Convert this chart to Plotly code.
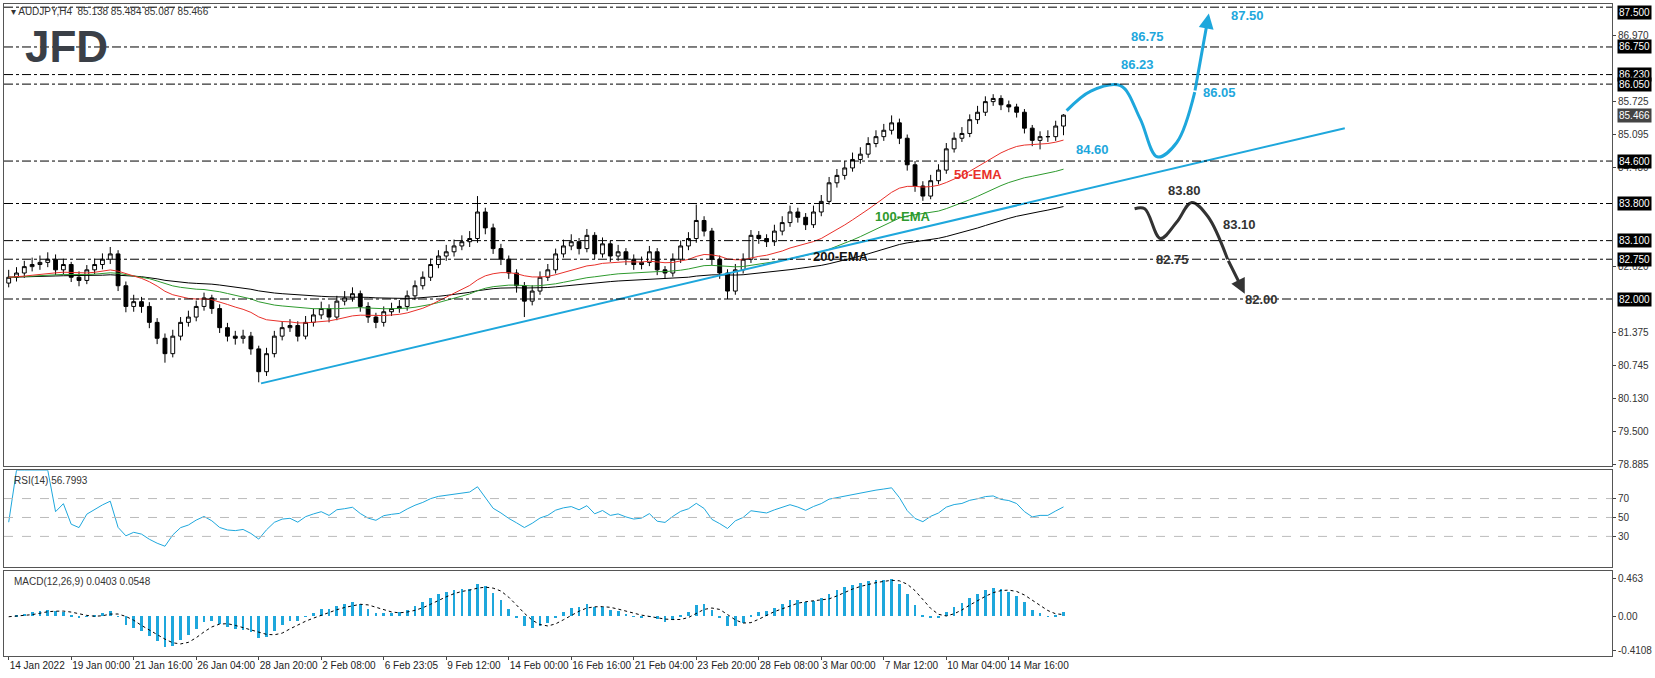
import numpy as np
import pandas as pd
import plotly.graph_objects as go
from plotly.subplots import make_subplots

closes = [82.41,82.49,82.61,82.65,82.69,82.75,82.55,82.65,82.41,82.35,82.55,82.65,82.75,82.85,82.25,81.86,81.95,81.86,81.56,81.26,
80.97,81.30,81.56,81.66,81.86,82.02,81.82,81.46,81.30,81.26,81.30,81.06,80.63,80.97,81.30,81.46,81.50,81.30,81.56,81.70,
81.82,81.66,81.96,82.02,82.10,81.86,81.66,81.56,81.76,81.82,81.86,82.06,82.25,82.41,82.65,82.81,82.89,83.00,83.08,83.14,
83.64,83.34,82.95,82.75,82.49,82.25,81.96,82.15,82.41,82.55,82.85,83.00,83.08,82.95,83.20,82.85,83.04,82.81,82.89,82.75,
82.65,82.69,82.89,82.55,82.49,82.75,83.00,83.14,83.48,83.28,82.75,82.49,82.15,82.55,82.75,83.20,83.14,83.08,83.28,83.44,
83.64,83.54,83.40,83.64,83.84,84.19,84.33,84.47,84.63,84.73,84.93,85.06,85.18,85.32,85.03,84.53,84.13,83.94,84.23,84.43,
84.83,85.03,85.12,85.38,85.52,85.72,85.78,85.66,85.62,85.52,85.22,84.99,85.06,85.06,85.26,85.466]
highs = [82.55,82.60,82.72,82.78,82.82,82.88,82.84,82.76,82.70,82.52,82.64,82.76,82.86,82.98,82.92,82.33,82.08,82.04,81.94,81.64,
81.35,81.42,81.66,81.78,81.97,82.12,82.08,81.90,81.55,81.40,81.42,81.38,81.12,81.08,81.40,81.58,81.62,81.58,81.68,81.82,
81.95,81.90,82.06,82.15,82.22,82.16,81.94,81.74,81.86,81.93,81.98,82.16,82.35,82.52,82.76,82.92,83.02,83.12,83.20,83.28,
83.94,83.72,83.42,83.04,82.82,82.56,82.32,82.26,82.52,82.66,82.95,83.12,83.22,83.15,83.32,83.26,83.16,83.10,83.02,82.96,
82.84,82.80,83.00,82.96,82.62,82.86,83.10,83.26,83.78,83.56,83.34,82.82,82.56,82.66,82.86,83.30,83.28,83.22,83.40,83.56,
83.76,83.72,83.62,83.76,83.96,84.30,84.45,84.60,84.76,84.86,85.05,85.18,85.30,85.46,85.40,85.10,84.60,84.22,84.34,84.54,
84.94,85.14,85.24,85.48,85.64,85.82,85.86,85.84,85.74,85.68,85.58,85.28,85.16,85.18,85.36,85.484]
lows = [82.22,82.33,82.40,82.52,82.55,82.60,82.45,82.46,82.32,82.24,82.28,82.47,82.56,82.66,82.15,81.75,81.76,81.74,81.45,81.15,
80.80,80.90,81.22,81.48,81.58,81.78,81.72,81.36,81.20,81.14,81.16,80.95,80.43,80.55,80.90,81.22,81.38,81.20,81.24,81.48,
81.62,81.56,81.60,81.88,81.95,81.76,81.55,81.45,81.48,81.68,81.74,81.78,81.98,82.18,82.34,82.58,82.72,82.80,82.92,82.98,
83.06,83.22,82.85,82.64,82.38,82.12,81.66,81.88,82.08,82.34,82.48,82.78,82.92,82.84,82.88,82.75,82.78,82.70,82.72,82.64,
82.55,82.56,82.62,82.45,82.38,82.42,82.68,82.92,83.06,83.18,82.64,82.38,82.00,82.08,82.48,82.68,83.04,82.98,83.00,83.20,
83.36,83.44,83.30,83.34,83.56,83.78,84.10,84.25,84.40,84.55,84.66,84.86,84.98,85.10,84.92,84.42,84.02,83.85,83.88,84.16,
84.36,84.76,84.96,85.05,85.30,85.45,85.64,85.56,85.52,85.42,85.12,84.88,84.82,84.96,84.98,85.087]
first_open = 82.30
date_labels = ["14 Jan 2022","19 Jan 00:00","21 Jan 16:00","26 Jan 04:00","28 Jan 20:00","2 Feb 08:00","6 Feb 23:05",
"9 Feb 12:00","14 Feb 00:00","16 Feb 16:00","21 Feb 04:00","23 Feb 20:00","28 Feb 08:00","3 Mar 00:00","7 Mar 12:00",
"10 Mar 04:00","14 Mar 16:00"]
levels = [87.50,86.75,86.23,86.05,84.60,83.80,83.10,82.75,82.00]
plain_ticks = [86.970,85.725,85.095,84.480,82.620,81.375,80.745,80.130,79.500,78.885]
trend_x = [32.3,171.0]; trend_y = [80.41,85.22]
bull_x = [135.4,138.5,142.3,144.8,147.0,149.5,151.8,153.6]
bull_y = [85.55,85.92,86.02,85.40,84.68,84.95,85.90,87.38]
bear_x = [144.1,145.4,147.4,149.5,151.4,153.5,156.0,158.2]
bear_y = [83.70,83.70,83.14,83.45,83.82,83.55,82.75,82.10]

opens = [first_open] + closes[:-1]
n = len(closes)
idx = list(range(n))
s = pd.Series(closes)
ema50 = s.ewm(span=25, adjust=False).mean()
ema100 = s.ewm(span=50, adjust=False).mean()
ema200 = s.ewm(span=100, adjust=False).mean()
d = s.diff()
up = d.clip(lower=0).ewm(alpha=1/12, adjust=True).mean()
dn = (-d.clip(upper=0)).ewm(alpha=1/12, adjust=True).mean()
rsi = (100 - 100/(1+up/dn)).fillna(45)
macd = s.ewm(span=6, adjust=False).mean() - s.ewm(span=13, adjust=False).mean()
sig = macd.rolling(4, min_periods=1).mean()

BLUE = "#1ea7dc"
fig = make_subplots(rows=3, cols=1, shared_xaxes=True)
fig.add_trace(go.Candlestick(x=idx, open=opens, high=highs, low=lows, close=closes,
    increasing=dict(line=dict(color="black", width=1), fillcolor="white"),
    decreasing=dict(line=dict(color="black", width=1), fillcolor="black"),
    whiskerwidth=0, showlegend=False), row=1, col=1)
fig.add_trace(go.Scatter(x=idx, y=ema200, mode="lines", line=dict(color="black", width=1)), row=1, col=1)
fig.add_trace(go.Scatter(x=idx, y=ema100, mode="lines", line=dict(color="#2e9a2e", width=1)), row=1, col=1)
fig.add_trace(go.Scatter(x=idx, y=ema50, mode="lines", line=dict(color="#e8302a", width=1)), row=1, col=1)
fig.add_trace(go.Scatter(x=trend_x, y=trend_y, mode="lines", line=dict(color=BLUE, width=2)), row=1, col=1)
fig.add_trace(go.Scatter(x=bull_x[:-1], y=bull_y[:-1], mode="lines", line=dict(color=BLUE, width=3, shape="spline")), row=1, col=1)
fig.add_trace(go.Scatter(x=bear_x[:-1], y=bear_y[:-1], mode="lines", line=dict(color="#333333", width=3, shape="spline")), row=1, col=1)
fig.add_annotation(x=bull_x[-1], y=bull_y[-1], ax=bull_x[-2], ay=bull_y[-2], xref="x", yref="y", axref="x", ayref="y",
    showarrow=True, arrowhead=2, arrowsize=1, arrowwidth=3, arrowcolor=BLUE, text="")
fig.add_annotation(x=bear_x[-1], y=bear_y[-1], ax=bear_x[-2], ay=bear_y[-2], xref="x", yref="y", axref="x", ayref="y",
    showarrow=True, arrowhead=2, arrowsize=1, arrowwidth=3, arrowcolor="#333333", text="")

fig.add_trace(go.Scatter(x=idx, y=rsi, mode="lines", line=dict(color=BLUE, width=1)), row=2, col=1)
fig.add_trace(go.Bar(x=idx, y=macd, marker_color=BLUE, width=0.35, marker_line_width=0), row=3, col=1)
fig.add_trace(go.Scatter(x=idx, y=sig, mode="lines", line=dict(color="black", width=1, dash="dot")), row=3, col=1)

for lv in levels:
    fig.add_shape(type="line", xref="x domain", yref="y", x0=0, x1=1, y0=lv, y1=lv,
                  line=dict(color="black", width=1, dash="dashdot"))
    fig.add_annotation(xref="paper", yref="y", x=1.003, y=lv, xanchor="left", text=f"{lv:.3f}", showarrow=False,
                       yshift=-5 if lv == 87.5 else 0,
                       bgcolor="black", font=dict(color="white", size=10, family="Liberation Sans"), borderpad=1)
fig.add_annotation(xref="paper", yref="y", x=1.003, y=85.466, xanchor="left", text="85.466", showarrow=False,
                   bgcolor="#444444", font=dict(color="white", size=10, family="Liberation Sans"), borderpad=1)
for lv in [30, 50, 70]:
    fig.add_shape(type="line", xref="x2 domain", yref="y2", x0=0, x1=1, y0=lv, y1=lv,
                  line=dict(color="#bbbbbb", width=1, dash="dash"))

def txt(x, y, t, c, bold=False, size=13):
    fig.add_annotation(x=x, y=y, xref="x", yref="y", text=f"<b>{t}</b>" if bold else t, showarrow=False,
                       font=dict(color=c, size=size, family="Liberation Sans"))
txt(158.5, 87.35, "87.50", BLUE, True); txt(145.8, 86.95, "86.75", BLUE, True)
txt(144.5, 86.42, "86.23", BLUE, True); txt(155.0, 85.9, "86.05", BLUE, True)
txt(138.7, 84.82, "84.60", BLUE, True)
txt(150.5, 84.05, "83.80", "#333333", True); txt(157.5, 83.40, "83.10", "#333333", True)
txt(149.0, 82.75, "82.75", "#333333", True); txt(160.3, 82.00, "82.00", "#333333", True)
txt(124.0, 84.35, "50-EMA", "#e8302a", True); txt(114.5, 83.55, "100-EMA", "#2e9a2e", True)
txt(106.5, 82.80, "200-EMA", "#111111", True)

fig.add_annotation(xref="paper", yref="paper", x=0.003, y=1.0, xanchor="left", yanchor="top", showarrow=False,
    text="▾ AUDJPY,H4  85.138 85.484 85.087 85.466", font=dict(size=10, color="#333333"))
fig.add_annotation(xref="paper", yref="paper", x=0.012, y=0.975, xanchor="left", yanchor="top", showarrow=False,
    text="<b>JFD</b>", font=dict(size=44, color="#3a3f47", family="Liberation Sans"))
fig.add_annotation(xref="x2 domain", yref="y2 domain", x=0.005, y=0.97, xanchor="left", yanchor="top", showarrow=False,
    text="RSI(14) 56.7993", font=dict(size=10, color="#333333"))
fig.add_annotation(xref="x3 domain", yref="y3 domain", x=0.005, y=0.97, xanchor="left", yanchor="top", showarrow=False,
    text="MACD(12,26,9) 0.0403 0.0548", font=dict(size=10, color="#333333"))

ax = dict(showline=True, linecolor="#555555", mirror=True, showgrid=False, zeroline=False,
          range=[-0.6, 205.2], ticks="")
fig.update_layout(xaxis=dict(ax, domain=[0, 1], showticklabels=False, rangeslider=dict(visible=False)),
    xaxis2=dict(ax, showticklabels=False),
    xaxis3=dict(ax, tickvals=[i*8 for i in range(len(date_labels))], ticktext=date_labels, tickangle=0,
                ticks="outside", ticklen=3, ticklabelposition="outside right",
                tickfont=dict(size=10, color="#222", family="Liberation Sans")))
yax = dict(side="right", showline=True, linecolor="#555555", mirror=True, showgrid=False, zeroline=False,
           ticks="outside", ticklen=3, tickfont=dict(size=10, color="#333", family="Liberation Sans"))
fig.update_layout(
    yaxis=dict(yax, domain=[0.292, 1], range=[78.86, 87.56], tickvals=plain_ticks,
               ticktext=[f"{v:.3f}" for v in plain_ticks]),
    yaxis2=dict(yax, domain=[0.137, 0.285], range=[-2, 100], tickvals=[30, 50, 70]),
    yaxis3=dict(yax, domain=[0, 0.130], range=[-0.475, 0.55], tickvals=[-0.4108, 0, 0.463],
                ticktext=["-0.4108", "0.00", "0.463"]),
    width=1655, height=678, margin=dict(l=3, r=42, t=3, b=22),
    paper_bgcolor="white", plot_bgcolor="white", showlegend=False, bargap=0,
    font=dict(family="Liberation Sans"))
fig.write_html("out.html", config={"displayModeBar": False},
               post_script="document.body.style.margin='0';document.body.style.overflow='hidden';")
